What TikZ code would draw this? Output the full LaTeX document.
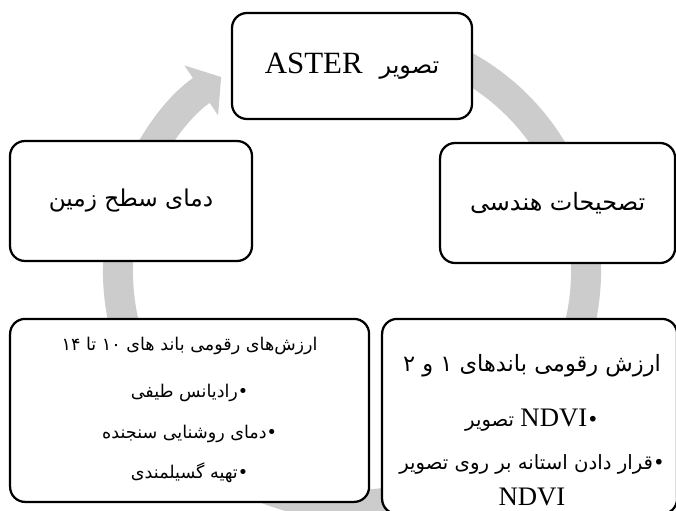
\documentclass[tikz,border=0pt]{standalone}
\usepackage{fontspec}
\setmainfont{Liberation Serif}
\newfontfamily\fa[Script=Arabic]{DejaVu Sans}
\TeXXeTstate=1
\usepackage{tikz}
\usetikzlibrary{positioning,arrows.meta}
\definecolor{ringgray}{HTML}{CCCCCC}

\begin{document}
\begin{tikzpicture}[stagebox/.style={draw, rectangle, rounded corners=0.375cm, line width=1.6pt, fill=white, align=center}]
        \useasboundingbox (0,0) rectangle (16.9,12.75);
        \coordinate (Hub) at (8.8,5.975);
        \draw [ringgray, line width=0.75cm, -{Triangle[width=1.475cm, length=0.6cm]}] ([shift={(75:5.85)}]Hub) arc [start angle=75, end angle=-236, radius=5.85];

        \node [stagebox, minimum width=6cm, minimum height=2.65cm] (Aster) at (8.8,11.1) {\beginR{\fa\fontsize{17}{20}\selectfont تصویر}\hspace{12pt}\beginL{\fontsize{22}{26}\selectfont ASTER}\endL\endR};
        \node [stagebox, minimum width=5.875cm, minimum height=3cm, font={\fa\fontsize{17}{20}\selectfont}] (Geo) at (13.94,7.675) {\beginR تصحیحات هندسی\endR};
        \node [stagebox, minimum width=6.05cm, minimum height=3cm, font={\fa\fontsize{16.5}{20}\selectfont}] (Lst) at (3.275,7.725) {\beginR دمای سطح زمین\endR};
        \node [stagebox, minimum width=8.975cm, minimum height=4.575cm, font={\fa\fontsize{12.5}{29}\selectfont}] (Thermal) at (4.74,2.49) {\beginR ارزش‌های رقومی باند های ۱۰ تا ۱۴\endR\\[4pt]
            \beginR •رادیانس طیفی\endR\\
            \beginR •دمای روشنایی سنجنده\endR\\
            \beginR •تهیه گسیلمندی\endR};
        \node [stagebox, minimum width=7.375cm, minimum height=4.875cm] (Visible) at (13.24,2.34) {};
        \node [align=center, font={\fa\fontsize{14}{25}\selectfont}] (VisibleText) at (13.3,2.0) {\beginR{\fontsize{16}{20}\selectfont ارزش رقومی باندهای ۱ و ۲}\endR\\[14pt]
            \beginR •\beginL{\rmfamily\fontsize{19}{22}\selectfont NDVI}\endL\ تصویر\endR\\[6pt]
            \beginR •قرار دادن استانه بر روی تصویر\endR\\
            {\rmfamily\fontsize{19}{22}\selectfont NDVI}};
\end{tikzpicture}
\end{document}
